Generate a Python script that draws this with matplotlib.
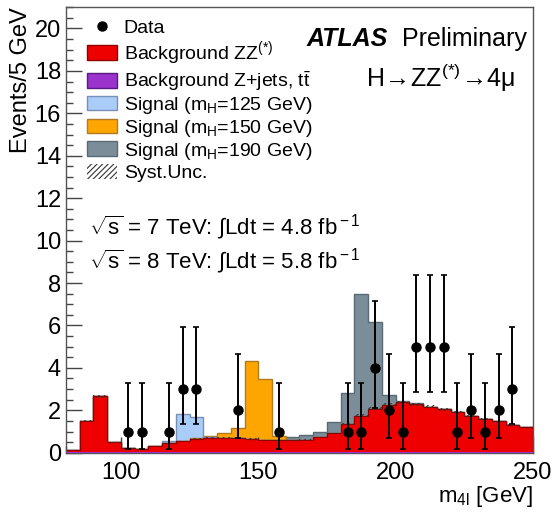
import numpy as np
import matplotlib
matplotlib.use("Agg")
import matplotlib.pyplot as plt
from matplotlib.patches import Patch
from matplotlib.lines import Line2D
from matplotlib.ticker import MultipleLocator

plt.rcParams['font.family'] = ['Liberation Sans', 'DejaVu Sans']
plt.rcParams['mathtext.fontset'] = 'custom'
plt.rcParams['mathtext.rm'] = 'Liberation Sans'
plt.rcParams['mathtext.it'] = 'Liberation Sans:italic'
plt.rcParams['mathtext.bf'] = 'Liberation Sans:bold'
plt.rcParams['hatch.linewidth'] = 0.8

# 5 GeV bins from 80 to 250 GeV
edges = np.arange(80, 255, 5)

# stacked backgrounds (events / 5 GeV)
zjets = [0.015, 0.015, 0.015, 0.015, 0.015, 0.015, 0.015, 0.015, 0.015, 0.015,
         0.015, 0.015, 0.015, 0.015, 0.015, 0.015, 0.012, 0.012, 0.012, 0.012,
         0.012, 0.012, 0.012, 0.012, 0.012, 0.012, 0.012, 0.012, 0.012, 0.012,
         0.012, 0.012, 0.012, 0.012]
zz = [0.12, 1.47, 2.64, 0.48, 0.19, 0.15, 0.31, 0.43, 0.54, 0.65,
      0.69, 0.69, 0.67, 0.65, 0.59, 0.57, 0.57, 0.61, 0.73, 0.91,
      1.35, 1.74, 2.06, 2.25, 2.36, 2.28, 2.16, 2.03, 1.90, 1.73,
      1.58, 1.46, 1.31, 1.18]

# signal expectations on top of the background
sig125 = [0, 0, 0, 0, 0, 0, 0.01, 0.10, 1.25, 1.00,
          0.05, 0, 0, 0, 0, 0, 0, 0, 0, 0,
          0, 0, 0, 0, 0, 0, 0, 0, 0, 0,
          0, 0, 0, 0]
sig150 = [0, 0, 0, 0, 0, 0, 0, 0, 0, 0.02,
          0.09, 0.22, 0.50, 3.64, 2.88, 0.20, 0.04, 0, 0, 0,
          0, 0, 0, 0, 0, 0, 0, 0, 0, 0,
          0, 0, 0, 0]
sig190 = [0, 0, 0, 0, 0, 0, 0, 0, 0, 0,
          0, 0, 0, 0, 0, 0.03, 0.15, 0.23, 0.24, 0.51,
          1.46, 5.71, 4.09, 0.48, 0.07, 0.03, 0, 0, 0, 0,
          0, 0, 0, 0]

# observed data
data_x = [102.5, 107.5, 117.5, 122.5, 127.5, 142.5, 157.5,
          182.5, 187.5, 192.5, 197.5, 202.5, 207.5, 212.5, 217.5,
          222.5, 227.5, 232.5, 237.5, 242.5]
data_n = [1, 1, 1, 3, 3, 2, 1,
          1, 1, 4, 2, 1, 5, 5, 5,
          1, 2, 1, 2, 3]
# 68% Poisson (Garwood) intervals for n = 1..5
pois_lo = {1: 0.173, 2: 0.708, 3: 1.367, 4: 2.086, 5: 2.840}
pois_hi = {1: 3.300, 2: 4.638, 3: 5.918, 4: 7.163, 5: 8.382}

syst_frac = 0.03

zjets = np.array(zjets)
zz = np.array(zz)
bkg = zjets + zz

fig = plt.figure(figsize=(5.54, 5.13), dpi=100)
ax = fig.add_axes([0.1191, 0.1175, 0.843, 0.8683])

c_red = '#ee0000'
c_purple = '#9933cc'
c_blue = '#aaccf8'
c_orange = '#ffa500'
c_gray = '#7a8d99'

for sig, col, ecol in [(sig190, c_gray, '#5a6a74'),
                       (sig150, c_orange, '#b07a20'),
                       (sig125, c_blue, '#7890b8')]:
    tot = bkg + np.array(sig)
    ax.stairs(tot, edges, fill=True, color=col, zorder=1)
    ax.stairs(tot, edges, fill=False, color=ecol, lw=1.0, zorder=1.5)

ax.stairs(bkg, edges, fill=True, color=c_red, zorder=2)
ax.stairs(bkg, edges, fill=False, color='#900000', lw=0.9, zorder=2.5)
ax.stairs(zjets, edges, fill=True, color=c_purple, zorder=3)

# systematic band
ax.stairs(bkg * (1 + syst_frac), edges, baseline=bkg * (1 - syst_frac),
          fill=True, facecolor='none', edgecolor='#333333', hatch='//////',
          lw=0, zorder=3.5)

# data points with asymmetric Poisson errors
yerr_lo = [n - pois_lo[n] for n in data_n]
yerr_hi = [pois_hi[n] - n for n in data_n]
ax.errorbar(data_x, data_n, yerr=[yerr_lo, yerr_hi], fmt='o', color='black',
            ms=6.5, elinewidth=1.4, capsize=2, capthick=1.2, zorder=5)

ax.set_xlim(80, 250)
ax.set_ylim(0, 21)
ax.xaxis.set_major_locator(MultipleLocator(50))
ax.xaxis.set_minor_locator(MultipleLocator(10))
ax.yaxis.set_major_locator(MultipleLocator(2))
ax.yaxis.set_minor_locator(MultipleLocator(0.5))
ax.tick_params(which='both', direction='in', top=False, right=False,
               labelsize=17, color='#444444')
ax.tick_params(which='major', length=11.5, width=1)
ax.tick_params(which='minor', length=5, width=1)
ax.tick_params(axis='x', pad=7)
for s in ax.spines.values():
    s.set_color('#555555')
    s.set_linewidth(1)

ax.set_ylabel('Events/5 GeV', fontsize=17, loc='top', labelpad=2)
ax.set_xlabel('m$_{\\rm 4l}$ [GeV]', fontsize=16, loc='right', labelpad=0)

handles = [
    Line2D([], [], marker='o', ls='none', color='black', ms=6.5),
    Patch(facecolor=c_red, edgecolor='#900000'),
    Patch(facecolor=c_purple, edgecolor='#5a1a80'),
    Patch(facecolor=c_blue, edgecolor='#7890b8'),
    Patch(facecolor=c_orange, edgecolor='#b07a20'),
    Patch(facecolor=c_gray, edgecolor='#5a6a74'),
    Patch(facecolor='none', edgecolor='#333333', hatch='//////', lw=0),
]
labels = [
    'Data',
    'Background ZZ$^{(*)}$',
    'Background Z+jets, t$\\bar{\\rm t}$',
    'Signal (m$_{\\rm H}$=125 GeV)',
    'Signal (m$_{\\rm H}$=150 GeV)',
    'Signal (m$_{\\rm H}$=190 GeV)',
    'Syst.Unc.',
]
ax.legend(handles, labels, loc='upper left', bbox_to_anchor=(0.024, 0.995),
          fontsize=14, frameon=False, borderpad=0, labelspacing=0.1,
          handlelength=1.55, handleheight=0.8, handletextpad=0.35)

ax.text(0.515, 0.912, 'ATLAS', transform=ax.transAxes, fontsize=18,
        fontweight='bold', fontstyle='italic')
ax.text(0.72, 0.912, 'Preliminary', transform=ax.transAxes, fontsize=18)
ax.text(0.802, 0.822, 'H$\\!\\rightarrow\\!$ZZ$^{(*)}\\!\\rightarrow\\!$4μ',
        transform=ax.transAxes, fontsize=18, ha='center')
ax.text(0.05, 0.49, '$\\sqrt{\\rm s}$ = 7 TeV: $\\int$Ldt = 4.8 fb$^{\\rm -1}$',
        transform=ax.transAxes, fontsize=16)
ax.text(0.05, 0.413, '$\\sqrt{\\rm s}$ = 8 TeV: $\\int$Ldt = 5.8 fb$^{\\rm -1}$',
        transform=ax.transAxes, fontsize=16)

fig.savefig('out.png', dpi=100)
